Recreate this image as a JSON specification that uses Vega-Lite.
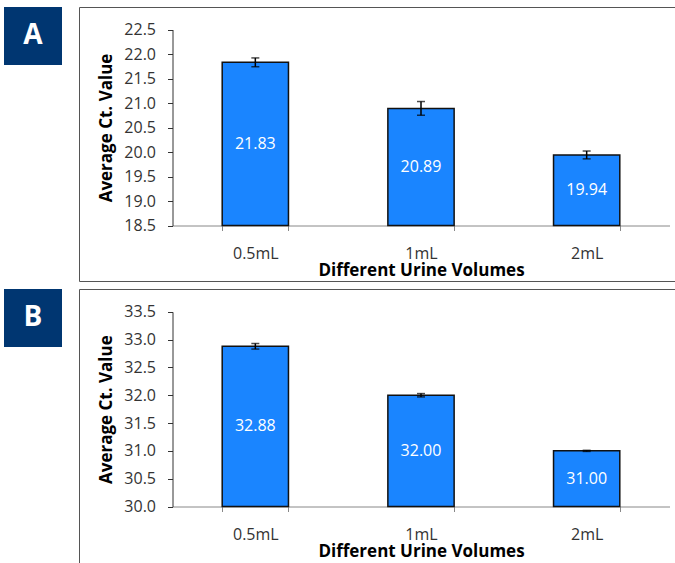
{
  "$schema": "https://vega.github.io/schema/vega-lite/v6.json",
  "padding": {"left": 4, "top": 6, "right": 0, "bottom": 0},
  "background": "white",
  "spacing": 6,
  "config": {
    "font": "Open Sans",
    "concat": {"spacing": 16},
    "axis": {"labelFont": "Open Sans", "titleFont": "Open Sans", "labelColor": "#333333", "titleColor": "#000000", "grid": false, "labelOverlap": false}
  },
  "vconcat": [
    {
      "spacing": 16,
      "hconcat": [
        {
          "width": 58, "height": 58,
          "view": {"fill": "#003671", "stroke": null},
          "data": {"values": [{"t": "A"}]},
          "mark": {"type": "text", "color": "white", "fontSize": 28, "fontWeight": "bold", "font": "Open Sans"},
          "encoding": {"text": {"field": "t"}}
        },
        {
          "width": 598, "height": 274,
          "view": {"stroke": "#555555", "strokeWidth": 1},
          "data": {"values": [
            {"vol": "0.5mL", "ct": 21.83, "lo": 21.74, "hi": 21.92},
            {"vol": "1mL", "ct": 20.89, "lo": 20.75, "hi": 21.03},
            {"vol": "2mL", "ct": 19.94, "lo": 19.86, "hi": 20.02}
          ]},
          "transform": [{"calculate": "(datum.ct + 18.5) / 2", "as": "mid"}],
          "encoding": {
            "x": {
              "field": "vol", "type": "nominal", "sort": null,
              "scale": {"range": [93.5, 590.5], "paddingInner": 0.6, "paddingOuter": 0.3},
              "axis": {"title": "Different Urine Volumes", "offset": -55.5, "labelAngle": 0, "tickBand": "extent", "tickSize": 5, "tickColor": "#888888", "domainColor": "#888888", "labelFontSize": 16, "labelPadding": 15, "titleFontSize": 17, "titleFontWeight": "bold", "titlePadding": 1}
            }
          },
          "layer": [
            {
              "mark": {"type": "bar", "color": "#1a85ff", "stroke": "#111111", "strokeWidth": 1.5},
              "encoding": {
                "y": {"field": "ct", "type": "quantitative", "title": "Average Ct. Value",
                  "scale": {"domain": [18.5, 22.5], "range": [218.5, 22.5], "zero": false, "nice": false},
                  "axis": {"offset": -93.5, "values": [18.5, 19, 19.5, 20, 20.5, 21, 21.5, 22, 22.5], "tickCount": 30, "format": ".1f", "labelOverlap": false, "tickSize": 5, "tickColor": "#333333", "domainColor": "#333333", "labelFontSize": 16, "labelPadding": 12, "titleFontSize": 17, "titleFontWeight": "bold", "titlePadding": 8}
                },
                "y2": {"datum": 18.5}
              }
            },
            {
              "mark": {"type": "errorbar", "color": "black", "ticks": {"size": 8, "thickness": 1.5, "color": "black"}, "rule": {"strokeWidth": 1.5}},
              "encoding": {"y": {"field": "lo", "type": "quantitative", "title": "Average Ct. Value"}, "y2": {"field": "hi"}}
            },
            {
              "mark": {"type": "text", "color": "white", "fontSize": 16},
              "encoding": {"y": {"field": "mid", "type": "quantitative", "title": "Average Ct. Value"}, "text": {"field": "ct", "type": "quantitative", "format": ".2f"}}
            }
          ]
        }
      ]
    },
    {
      "spacing": 16,
      "hconcat": [
        {
          "width": 58, "height": 58,
          "view": {"fill": "#003671", "stroke": null},
          "data": {"values": [{"t": "B"}]},
          "mark": {"type": "text", "color": "white", "fontSize": 28, "fontWeight": "bold", "font": "Open Sans"},
          "encoding": {"text": {"field": "t"}}
        },
        {
          "width": 598, "height": 274,
          "view": {"stroke": "#555555", "strokeWidth": 1},
          "data": {"values": [
            {"vol": "0.5mL", "ct": 32.88, "lo": 32.83, "hi": 32.93},
            {"vol": "1mL", "ct": 32.00, "lo": 31.97, "hi": 32.03},
            {"vol": "2mL", "ct": 31.00, "lo": 30.99, "hi": 31.01}
          ]},
          "transform": [{"calculate": "(datum.ct + 30) / 2", "as": "mid"}],
          "encoding": {
            "x": {
              "field": "vol", "type": "nominal", "sort": null,
              "scale": {"range": [93.5, 590.5], "paddingInner": 0.6, "paddingOuter": 0.3},
              "axis": {"title": "Different Urine Volumes", "offset": -56.5, "labelAngle": 0, "tickBand": "extent", "tickSize": 5, "tickColor": "#888888", "domainColor": "#888888", "labelFontSize": 16, "labelPadding": 15, "titleFontSize": 17, "titleFontWeight": "bold", "titlePadding": 1}
            }
          },
          "layer": [
            {
              "mark": {"type": "bar", "color": "#1a85ff", "stroke": "#111111", "strokeWidth": 1.5},
              "encoding": {
                "y": {"field": "ct", "type": "quantitative", "title": "Average Ct. Value",
                  "scale": {"domain": [30, 33.5], "range": [217.5, 22.8], "zero": false, "nice": false},
                  "axis": {"offset": -93.5, "values": [30, 30.5, 31, 31.5, 32, 32.5, 33, 33.5], "tickCount": 30, "format": ".1f", "labelOverlap": false, "tickSize": 5, "tickColor": "#333333", "domainColor": "#333333", "labelFontSize": 16, "labelPadding": 12, "titleFontSize": 17, "titleFontWeight": "bold", "titlePadding": 8}
                },
                "y2": {"datum": 30}
              }
            },
            {
              "mark": {"type": "errorbar", "color": "black", "ticks": {"size": 8, "thickness": 1.5, "color": "black"}, "rule": {"strokeWidth": 1.5}},
              "encoding": {"y": {"field": "lo", "type": "quantitative", "title": "Average Ct. Value"}, "y2": {"field": "hi"}}
            },
            {
              "mark": {"type": "text", "color": "white", "fontSize": 16},
              "encoding": {"y": {"field": "mid", "type": "quantitative", "title": "Average Ct. Value"}, "text": {"field": "ct", "type": "quantitative", "format": ".2f"}}
            }
          ]
        }
      ]
    }
  ]
}
